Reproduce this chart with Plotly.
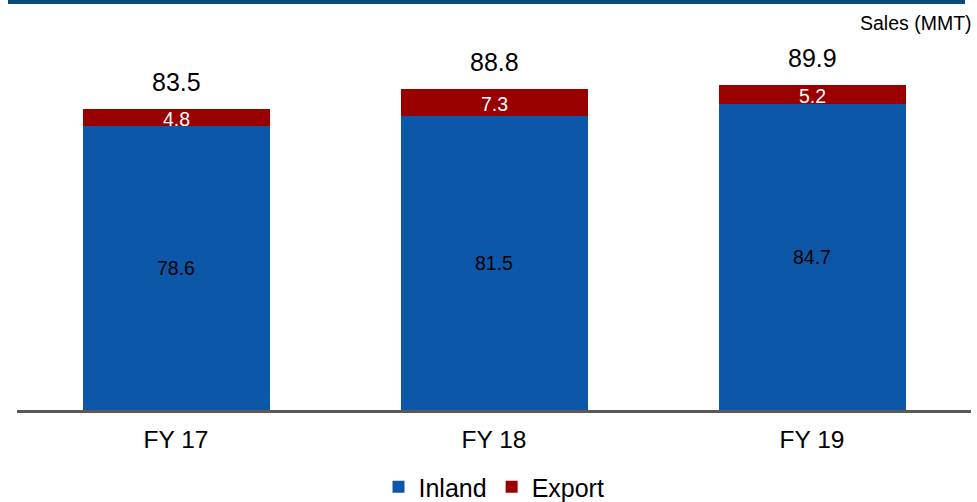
import plotly.graph_objects as go

categories = ["FY 17", "FY 18", "FY 19"]
inland = [78.6, 81.5, 84.7]
export = [4.8, 7.3, 5.2]
totals = [83.5, 88.8, 89.9]

BLUE = "#0d57a9"
RED = "#990000"
FONT = "Liberation Sans, Arial, sans-serif"

fig = go.Figure()
fig.add_trace(go.Bar(x=categories, y=inland, name="Inland", marker=dict(color=BLUE, line=dict(width=0)),
                     hoverinfo="skip"))
fig.add_trace(go.Bar(x=categories, y=export, name="Export", marker=dict(color=RED, line=dict(width=0)),
                     hoverinfo="skip"))

ann = []
for c, a, b, t in zip(categories, inland, export, totals):
    ann.append(dict(x=c, y=a / 2, text=f"{a:.1f}", showarrow=False,
                    font=dict(size=19.5, color="black", family=FONT)))
    ann.append(dict(x=c, y=a + b / 2, text=f"{b:.1f}", showarrow=False, yshift=-1,
                    font=dict(size=19.5, color="white", family=FONT)))
    ann.append(dict(x=c, y=a + b, text=f"{t:.1f}", showarrow=False, yanchor="bottom", yshift=11,
                    font=dict(size=25, color="black", family=FONT)))
ann.append(dict(xref="paper", yref="paper", x=(974 - 17) / 954, y=1 + (40 - 23) / 370,
                xanchor="right", yanchor="middle", text="Sales (MMT)", showarrow=False,
                font=dict(size=19.5, color="black", family=FONT)))

fig.update_layout(
    barmode="stack",
    bargap=1 - 187 / 318,
    width=977, height=502,
    margin=dict(l=17, r=6, t=40, b=92, autoexpand=False),
    plot_bgcolor="white", paper_bgcolor="white",
    font=dict(family=FONT, color="black"),
    annotations=ann,
    shapes=[dict(type="rect", xref="paper", yref="paper",
                 x0=(8 - 17) / 954, x1=(965 - 17) / 954,
                 y0=1 + 36 / 370, y1=1 + 40 / 370,
                 fillcolor="#0b4a7c", line=dict(width=0))],
    legend=dict(orientation="h", x=0.5, xanchor="center", y=(410 - 487) / 370, yanchor="middle",
                font=dict(size=25, family=FONT), itemwidth=30, traceorder="normal"),
    xaxis=dict(showline=True, linecolor="#58595b", linewidth=3, ticks="", showgrid=False,
               tickfont=dict(size=24.5, family=FONT), ticklabelstandoff=6, fixedrange=True),
    yaxis=dict(range=[0, 370 / 3.61], visible=False, showgrid=False, fixedrange=True),
)

fig.write_html("out.html", config={"displayModeBar": False},
               post_script="document.body.style.margin='0';")
